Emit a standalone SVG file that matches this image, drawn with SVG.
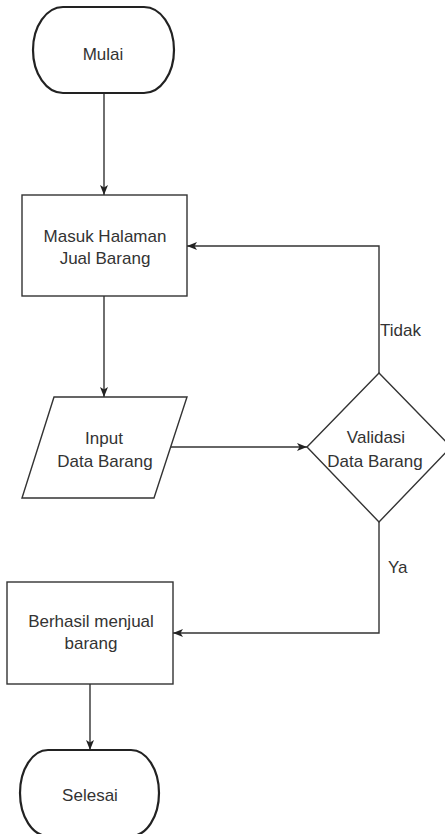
<svg xmlns="http://www.w3.org/2000/svg" width="445" height="834" viewBox="0 0 445 834">
<style>
  .t{font-family:"Liberation Sans",Arial,sans-serif;font-size:17px;fill:#333;text-anchor:middle}
  .l{font-family:"Liberation Sans",Arial,sans-serif;font-size:17px;fill:#333;text-anchor:start}
  .term{fill:#fff;stroke:#222;stroke-width:2.2}
  .box{fill:#fff;stroke:#333;stroke-width:1.4}
  .edge{fill:none;stroke:#333;stroke-width:1.4}
</style>
<defs>
  <marker id="arr" viewBox="0 0 10 8" refX="10" refY="4" markerWidth="10" markerHeight="8" markerUnits="userSpaceOnUse" orient="auto">
    <path d="M0,0 L10,4 L0,8 L2.5,4 z" fill="#222"/>
  </marker>
</defs>
<rect width="445" height="834" fill="#fff"/>
<g id="connectors">
  <path class="edge" d="M104,93 L104,195" marker-end="url(#arr)"/>
  <path class="edge" d="M104,296 L104,397" marker-end="url(#arr)"/>
  <path class="edge" d="M171,447 L307,447" marker-end="url(#arr)"/>
  <path class="edge" d="M379,373 L379,246 L187,246" marker-end="url(#arr)"/>
  <path class="edge" d="M379,522 L379,633 L173,633" marker-end="url(#arr)"/>
  <path class="edge" d="M90,684 L90,750" marker-end="url(#arr)"/>
  <text class="l" x="380" y="336">Tidak</text>
  <text class="l" x="388" y="573">Ya</text>
</g>
<g id="mulai">
  <rect class="term" x="33" y="7" width="141" height="86" rx="30" ry="43"/>
  <text class="t" x="103" y="60">Mulai</text>
</g>
<g id="masuk">
  <rect class="box" x="22" y="195" width="165" height="101"/>
  <text class="t" x="105" y="242">Masuk Halaman</text>
  <text class="t" x="105" y="264">Jual Barang</text>
</g>
<g id="input">
  <polygon class="box" points="54,397 187,397 154,498 22,498"/>
  <text class="t" x="104" y="444">Input</text>
  <text class="t" x="105" y="467">Data Barang</text>
</g>
<g id="validasi">
  <polygon class="box" points="379,373 451,447 379,522 307,447"/>
  <text class="t" x="376" y="443">Validasi</text>
  <text class="t" x="375" y="467">Data Barang</text>
</g>
<g id="berhasil">
  <rect class="box" x="7" y="582" width="166" height="102"/>
  <text class="t" x="91" y="627">Berhasil menjual</text>
  <text class="t" x="91" y="649">barang</text>
</g>
<g id="selesai">
  <rect class="term" x="20" y="750" width="139" height="86" rx="28" ry="43"/>
  <text class="t" x="90" y="801">Selesai</text>
</g>
</svg>
